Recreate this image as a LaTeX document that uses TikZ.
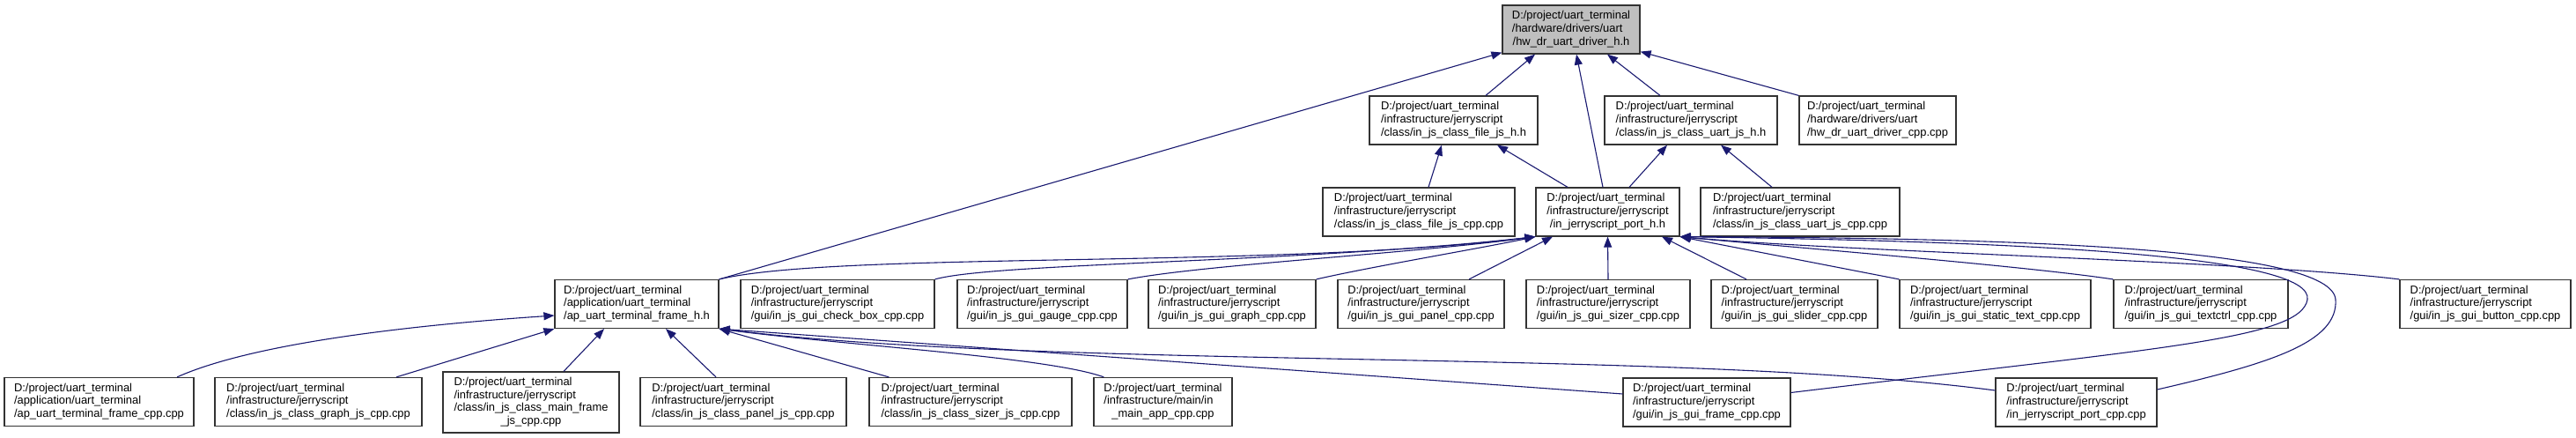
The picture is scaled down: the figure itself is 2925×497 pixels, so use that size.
\documentclass[tikz,border=0pt]{standalone}
\usepackage{fontspec}
\setmainfont{Liberation Sans}
\usetikzlibrary{arrows.meta}
\definecolor{edgeblue}{HTML}{191970}
\definecolor{rootgray}{HTML}{BFBFBF}
% doxygen style labels: first lines left, last line centred
\newcommand{\dlab}[3]{\begin{tabular}{@{}l@{}}#1\\#2\\\multicolumn{1}{@{}c@{}}{#3}\end{tabular}}
\newcommand{\dlabiv}[4]{\begin{tabular}{@{}l@{}}#1\\#2\\#3\\\multicolumn{1}{@{}c@{}}{#4}\end{tabular}}
\tikzset{
  dnode/.style={draw=black!80, fill=white, line width=1.2pt, minimum height=55pt, inner sep=0pt,
    font=\fontsize{12.9}{14.7}\selectfont},
  dep/.style={->, draw=edgeblue, line width=1.1pt},
}

\begin{document}
\begin{tikzpicture}[x=1pt, y=-1pt, >={Triangle[length=12pt,width=9pt]}]
	\useasboundingbox (0,0) rectangle (2925,497);
	% top
	\node[dnode, fill=rootgray, minimum width=156] (drvh) at (1784,33.5) {\dlab{D:/project/uart\_terminal}{/hardware/drivers/uart}{/hw\_dr\_uart\_driver\_h.h}};
	% second row
	\node[dnode, minimum width=191] (filejsh) at (1650.5,136.5) {\dlab{D:/project/uart\_terminal}{/infrastructure/jerryscript}{/class/in\_js\_class\_file\_js\_h.h}};
	\node[dnode, minimum width=196] (uartjsh) at (1920,136.5) {\dlab{D:/project/uart\_terminal}{/infrastructure/jerryscript}{/class/in\_js\_class\_uart\_js\_h.h}};
	\node[dnode, minimum width=178] (drvcpp) at (2132,136.5) {\dlab{D:/project/uart\_terminal}{/hardware/drivers/uart}{/hw\_dr\_uart\_driver\_cpp.cpp}};
	% third row
	\node[dnode, minimum width=218] (filejscpp) at (1611,240.5) {\dlab{D:/project/uart\_terminal}{/infrastructure/jerryscript}{/class/in\_js\_class\_file\_js\_cpp.cpp}};
	\node[dnode, minimum width=163] (porth) at (1825.5,240.5) {\dlab{D:/project/uart\_terminal}{/infrastructure/jerryscript}{/in\_jerryscript\_port\_h.h}};
	\node[dnode, minimum width=226] (uartjscpp) at (2044,240.5) {\dlab{D:/project/uart\_terminal}{/infrastructure/jerryscript}{/class/in\_js\_class\_uart\_js\_cpp.cpp}};
	% fourth row
	\node[dnode, minimum width=186] (frameh) at (723,345) {\dlab{D:/project/uart\_terminal}{/application/uart\_terminal}{/ap\_uart\_terminal\_frame\_h.h}};
	\node[dnode, minimum width=220] (chkbox) at (951,345) {\dlab{D:/project/uart\_terminal}{/infrastructure/jerryscript}{/gui/in\_js\_gui\_check\_box\_cpp.cpp}};
	\node[dnode, minimum width=193] (gauge) at (1183.5,345) {\dlab{D:/project/uart\_terminal}{/infrastructure/jerryscript}{/gui/in\_js\_gui\_gauge\_cpp.cpp}};
	\node[dnode, minimum width=190] (guigraph) at (1399,345) {\dlab{D:/project/uart\_terminal}{/infrastructure/jerryscript}{/gui/in\_js\_gui\_graph\_cpp.cpp}};
	\node[dnode, minimum width=189] (guipanel) at (1613.5,345) {\dlab{D:/project/uart\_terminal}{/infrastructure/jerryscript}{/gui/in\_js\_gui\_panel\_cpp.cpp}};
	\node[dnode, minimum width=186] (guisizer) at (1826,345) {\dlab{D:/project/uart\_terminal}{/infrastructure/jerryscript}{/gui/in\_js\_gui\_sizer\_cpp.cpp}};
	\node[dnode, minimum width=189] (slider) at (2037.5,345) {\dlab{D:/project/uart\_terminal}{/infrastructure/jerryscript}{/gui/in\_js\_gui\_slider\_cpp.cpp}};
	\node[dnode, minimum width=217] (stext) at (2265.5,345) {\dlab{D:/project/uart\_terminal}{/infrastructure/jerryscript}{/gui/in\_js\_gui\_static\_text\_cpp.cpp}};
	\node[dnode, minimum width=198] (textctrl) at (2499,345) {\dlab{D:/project/uart\_terminal}{/infrastructure/jerryscript}{/gui/in\_js\_gui\_textctrl\_cpp.cpp}};
	\node[dnode, minimum width=194] (button) at (2822,345) {\dlab{D:/project/uart\_terminal}{/infrastructure/jerryscript}{/gui/in\_js\_gui\_button\_cpp.cpp}};
	% bottom row
	\node[dnode, minimum width=215] (apframe) at (112.5,456) {\dlab{D:/project/uart\_terminal}{/application/uart\_terminal}{/ap\_uart\_terminal\_frame\_cpp.cpp}};
	\node[dnode, minimum width=235] (graphjs) at (361.5,456) {\dlab{D:/project/uart\_terminal}{/infrastructure/jerryscript}{/class/in\_js\_class\_graph\_js\_cpp.cpp}};
	\node[dnode, minimum width=200, minimum height=69] (mainframejs) at (603,456.5) {\dlabiv{D:/project/uart\_terminal}{/infrastructure/jerryscript}{/class/in\_js\_class\_main\_frame}{\_js\_cpp.cpp}};
	\node[dnode, minimum width=234] (paneljs) at (844,456) {\dlab{D:/project/uart\_terminal}{/infrastructure/jerryscript}{/class/in\_js\_class\_panel\_js\_cpp.cpp}};
	\node[dnode, minimum width=230] (sizerjs) at (1102,456) {\dlab{D:/project/uart\_terminal}{/infrastructure/jerryscript}{/class/in\_js\_class\_sizer\_js\_cpp.cpp}};
	\node[dnode, minimum width=157] (mainapp) at (1320.5,456) {\dlab{D:/project/uart\_terminal}{/infrastructure/main/in}{\_main\_app\_cpp.cpp}};
	\node[dnode, minimum width=190] (guiframe) at (1938,456.5) {\dlab{D:/project/uart\_terminal}{/infrastructure/jerryscript}{/gui/in\_js\_gui\_frame\_cpp.cpp}};
	\node[dnode, minimum width=183] (portcpp) at (2357.5,456.5) {\dlab{D:/project/uart\_terminal}{/infrastructure/jerryscript}{/in\_jerryscript\_port\_cpp.cpp}};

	% into the driver header
	\draw[dep] ([xshift=36.5pt]filejsh.north) -- ([xshift=-41pt]drvh.south);
	\draw[dep] ([xshift=-35pt]uartjsh.north) -- ([xshift=41pt]drvh.south);
	\draw[dep] (drvcpp.north west) -- ([yshift=3pt]drvh.south east);
	\draw[dep] ([xshift=-5.5pt]porth.north) -- ([xshift=6pt]drvh.south);
	\draw[dep] (frameh.north east) -- ([yshift=2pt]drvh.south west);
	\draw[dep] ([xshift=11pt]filejscpp.north) -- ([xshift=-13.5pt]filejsh.south);
	\draw[dep] ([xshift=-45.5pt]porth.north) -- ([xshift=49.5pt]filejsh.south);
	\draw[dep] ([xshift=24.5pt]porth.north) -- ([xshift=-27pt]uartjsh.south);
	\draw[dep] ([xshift=-32pt]uartjscpp.north) -- ([xshift=34pt]uartjsh.south);

	% into the port header
	\draw[dep] (frameh.north east) .. controls (950,285) and (1450,305) .. (porth.south west);
	\draw[dep] (chkbox.north east) .. controls (1130,298) and (1480,298) .. (porth.south west);
	\draw[dep] (gauge.north east) .. controls (1370,300) and (1600,288) .. (porth.south west);
	\draw[dep] (guigraph.north east) .. controls (1560,302) and (1680,282) .. (porth.south west);
	\draw[dep] ([xshift=54.5pt]guipanel.north) -- ([xshift=-62.5pt]porth.south);
	\draw[dep] (guisizer.north) -- (porth.south);
	\draw[dep] ([xshift=-54.5pt]slider.north) -- ([xshift=61.5pt]porth.south);
	\draw[dep] (stext.north west) -- (porth.south east);
	\draw[dep] (textctrl.north west) .. controls (2300,302) and (2050,282) .. (porth.south east);
	\draw[dep] (button.north west) .. controls (2550,296) and (2100,286) .. (porth.south east);
	\draw[dep] ([yshift=11pt]guiframe.east) .. controls (2450,395) and (2612,385) .. (2620,340)
		.. controls (2628,290) and (2300,274) .. (porth.south east);
	\draw[dep] ([yshift=14.5pt]portcpp.east) .. controls (2580,412) and (2655,388) .. (2652,340)
		.. controls (2648,282) and (2300,270) .. (porth.south east);

	% into the frame header
	\draw[dep] ([xshift=88.5pt]apframe.north) .. controls (290,388) and (480,368) .. ([yshift=-13pt]frameh.west);
	\draw[dep] ([xshift=88.5pt]graphjs.north) -- (frameh.south west);
	\draw[dep] ([xshift=37pt]mainframejs.north) -- ([xshift=-37pt]frameh.south);
	\draw[dep] ([xshift=-31pt]paneljs.north) -- ([xshift=33pt]frameh.south);
	\draw[dep] ([xshift=23pt]sizerjs.north west) -- (frameh.south east);
	\draw[dep] ([xshift=12pt]mainapp.north west) .. controls (1190,405) and (960,392) .. (frameh.south east);
	\draw[dep] ([yshift=9.5pt]guiframe.west) -- (frameh.south east);
	\draw[dep] ([yshift=13.5pt]portcpp.west) .. controls (1900,395) and (1200,420) .. (frameh.south east);
\end{tikzpicture}
\end{document}
